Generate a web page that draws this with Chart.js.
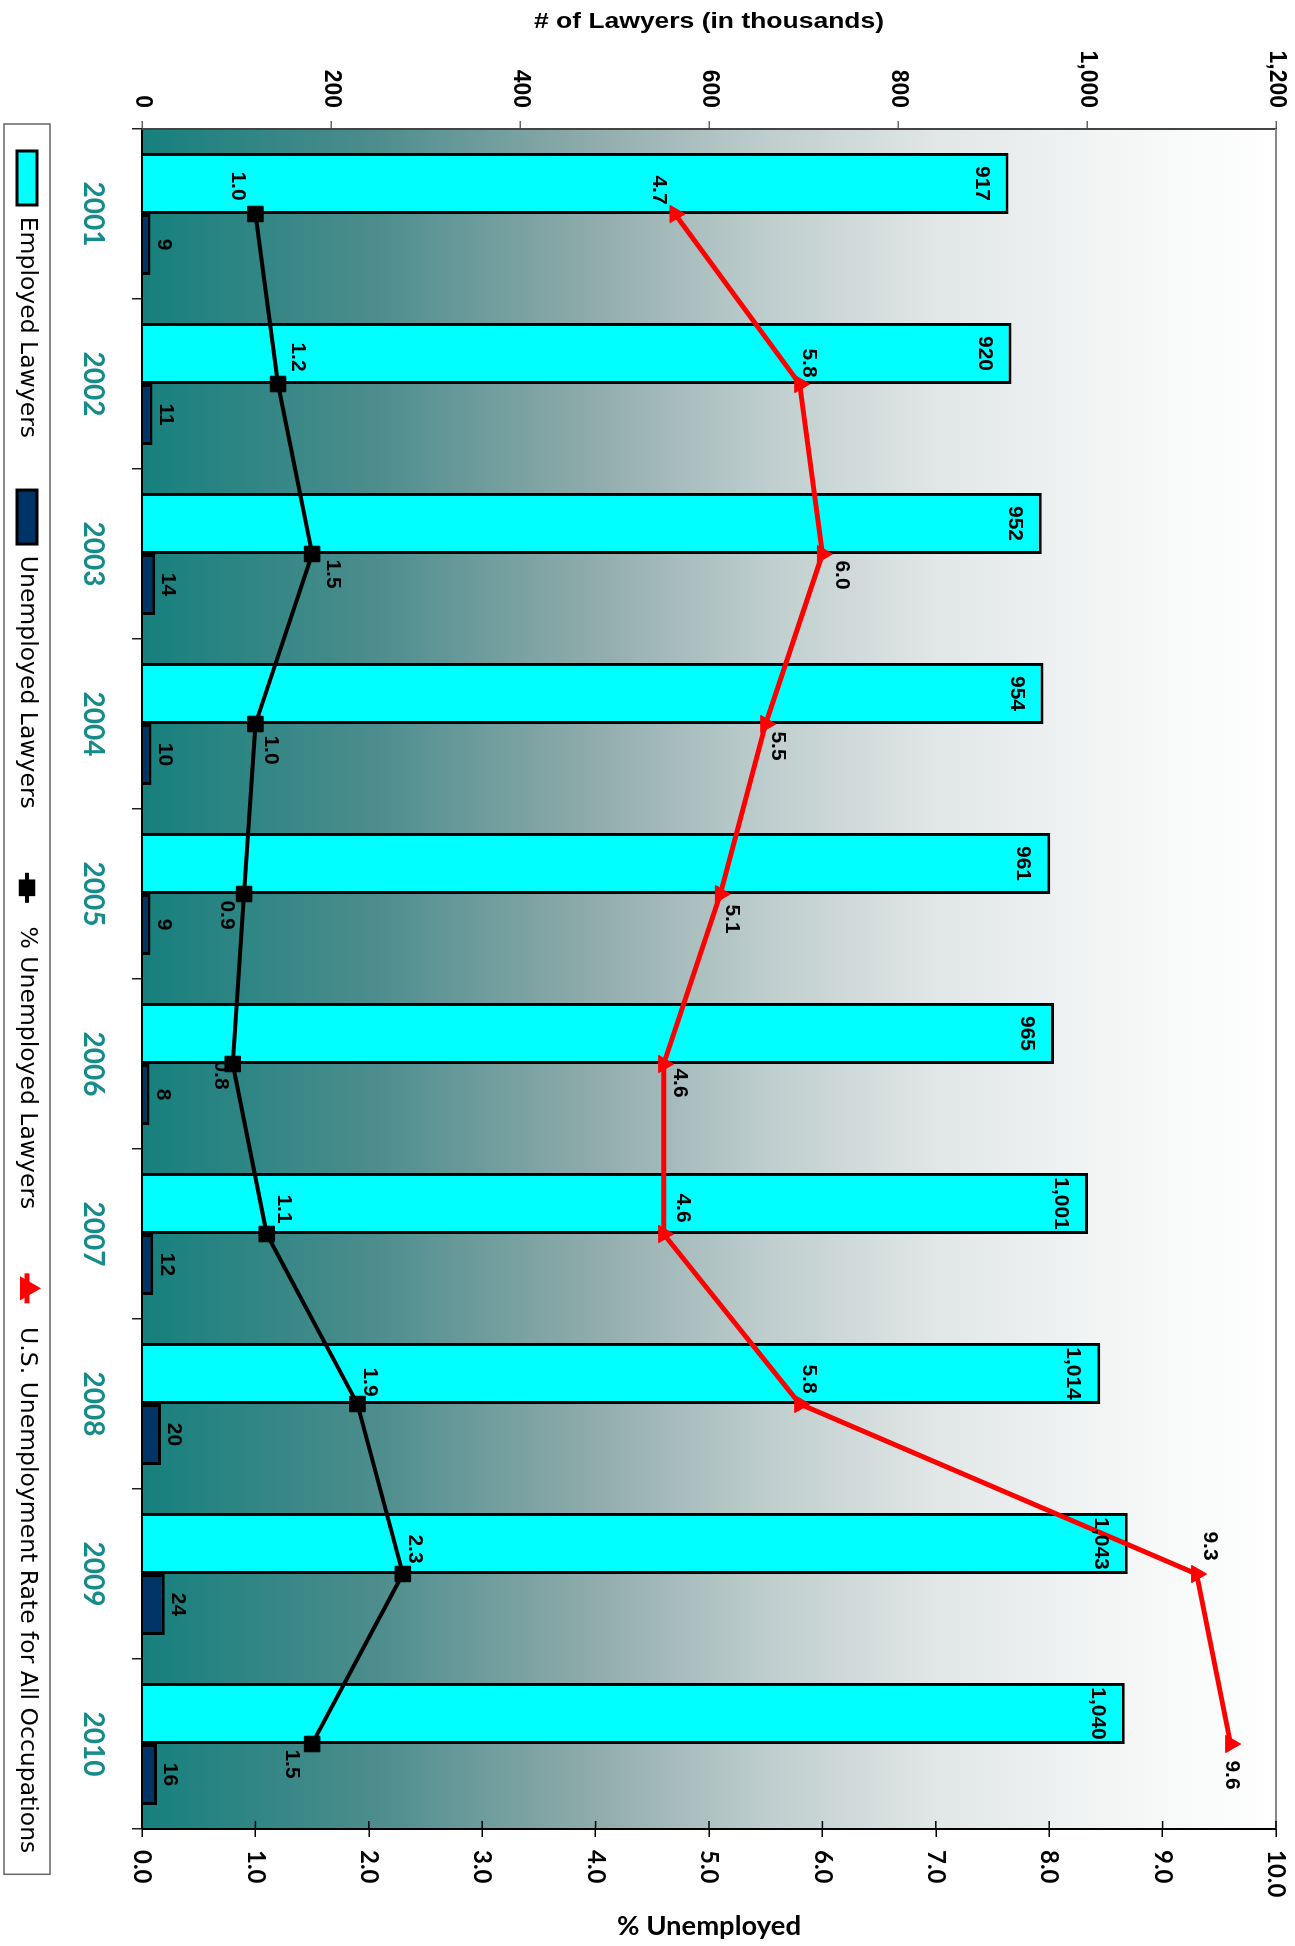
<!DOCTYPE html>
<html>
<head>
<meta charset="utf-8">
<title>Lawyers employed and unemployed 2001-2010</title>
<script src="https://cdn.jsdelivr.net/npm/chart.js@4.4.0/dist/chart.umd.min.js"></script>
<style>
  html, body { margin: 0; padding: 0; background: #fff; overflow: hidden; }
  body { width: 1295px; height: 1946px; position: relative; }
  /* the chart is laid out landscape and then turned a quarter clockwise */
  #wrap {
    position: absolute; left: 0; top: 0;
    width: 1946px; height: 1295px;
    transform-origin: 0 0;
    transform: translate(1295px, 0) rotate(90deg);
  }
</style>
</head>
<body>
<div id="wrap"><canvas id="lawyersChart" width="1946" height="1295"></canvas></div>
<script>
// Lawyers, 2001-2010 (thousands) and unemployment rates (%)
const years = ['2001', '2002', '2003', '2004', '2005', '2006', '2007', '2008', '2009', '2010'];
const employedLawyers = [917, 920, 952, 954, 961, 965, 1001, 1014, 1043, 1040];
const unemployedLawyers = [9, 11, 14, 10, 9, 8, 12, 20, 24, 16];
const pctUnemployedLawyers = [1.0, 1.2, 1.5, 1.0, 0.9, 0.8, 1.1, 1.9, 2.3, 1.5];
const usUnemploymentRate = [4.7, 5.8, 6.0, 5.5, 5.1, 4.6, 4.6, 5.8, 9.3, 9.6];

const lawyerTicks = [0, 200, 400, 600, 800, 1000, 1200];
const pctTicks = [0, 1, 2, 3, 4, 5, 6, 7, 8, 9, 10];

// label position next to each line point, [dx, dy] in the unturned chart
const pctLabelOffsets = [[-28, 18], [-27, -20], [20, -21], [26, -15], [21, 17], [11, 12], [-25, -17], [-22, -12], [-25, -12], [20, 20]];
const usLabelOffsets = [[-24, 16], [-21, -9], [21, -19], [22, -12], [25, -11], [19, -16], [-26, -19], [-25, -9], [-28, -13], [31, -1]];

const TEAL = '#178a8a';
const LEGEND_GAP = 52;

// gradient behind the plot, teal at the base fading to white
const plotBackground = {
  id: 'plotBackground',
  beforeDraw(chart) {
    const { ctx, chartArea: a } = chart;
    const g = ctx.createLinearGradient(0, a.bottom, 0, a.top);
    g.addColorStop(0, 'rgb(22,128,125)');
    g.addColorStop(0.2, 'rgb(75,140,140)');
    g.addColorStop(0.4, 'rgb(145,172,172)');
    g.addColorStop(0.55, 'rgb(190,205,205)');
    g.addColorStop(0.7, 'rgb(225,230,230)');
    g.addColorStop(0.85, 'rgb(243,245,245)');
    g.addColorStop(1, 'rgb(255,255,255)');
    ctx.save();
    ctx.fillStyle = g;
    ctx.fillRect(a.left, a.top, a.right - a.left, a.bottom - a.top);
    ctx.restore();
  }
};

// move the legend row into place once the layout is known
const legendPlacer = {
  id: 'legendPlacer',
  afterLayout(chart) {
    const lg = chart.legend;
    const top = chart.height - 27 - 11.75 - LEGEND_GAP;
    lg.top = top;
    lg.bottom = chart.height;
    lg.height = chart.height - top;
    const w = lg.right - lg.left;
    lg.left = 99;
    lg.right = 99 + w;
  }
};

// numbers on the bars and next to the line points
const valueLabels = {
  id: 'valueLabels',
  afterDatasetsDraw(chart) {
    const ctx = chart.ctx;
    const ds = chart.data.datasets;
    ctx.save();
    ctx.font = 'bold 21px "Liberation Sans"';
    ctx.fillStyle = '#000';
    ctx.textAlign = 'center';
    ctx.textBaseline = 'middle';
    chart.getDatasetMeta(0).data.forEach((bar, i) => {
      ctx.fillText(ds[0].data[i].toLocaleString('en-US'), bar.x, bar.y + 27);
    });
    chart.getDatasetMeta(1).data.forEach((bar, i) => {
      ctx.fillText(String(ds[1].data[i]), bar.x, bar.y - 13);
    });
    chart.getDatasetMeta(2).data.forEach((pt, i) => {
      const o = pctLabelOffsets[i];
      ctx.fillText(ds[2].data[i].toFixed(1), pt.x + o[0], pt.y + o[1]);
    });
    chart.getDatasetMeta(3).data.forEach((pt, i) => {
      const o = usLabelOffsets[i];
      ctx.fillText(ds[3].data[i].toFixed(1), pt.x + o[0], pt.y + o[1]);
    });
    ctx.restore();
  }
};

function drawAxisTitle(ctx, text, font, x, y, width) {
  ctx.save();
  ctx.font = font;
  const sx = width / ctx.measureText(text).width;
  ctx.translate(x, y);
  ctx.rotate(-Math.PI / 2);
  ctx.scale(sx, 1);
  ctx.textAlign = 'center';
  ctx.textBaseline = 'middle';
  ctx.fillStyle = '#000';
  ctx.fillText(text, 0, 0);
  ctx.restore();
}

// plot frame, inner ticks of the % axis, axis titles, legend frame and line markers
const extras = {
  id: 'extras',
  afterDraw(chart) {
    const { ctx, chartArea: a } = chart;
    const y1 = chart.scales.y1;
    ctx.save();
    ctx.strokeStyle = '#888';
    ctx.lineWidth = 2;
    ctx.beginPath();
    ctx.moveTo(a.left, a.top);
    ctx.lineTo(a.right, a.top);
    ctx.stroke();

    ctx.strokeStyle = '#000';
    ctx.lineWidth = 1.5;
    pctTicks.forEach(v => {
      const py = y1.getPixelForValue(v);
      ctx.beginPath();
      ctx.moveTo(a.right - 8, py);
      ctx.lineTo(a.right, py);
      ctx.stroke();
    });
    ctx.restore();

    const mid = (a.top + a.bottom) / 2;
    drawAxisTitle(ctx, '# of Lawyers (in thousands)', 'bold 22px "Liberation Sans"', 22, mid, 350);
    drawAxisTitle(ctx, '% Unemployed', 'bold 26px Lato', 1927, mid, 184);

    const legend = chart.legend;
    const boxes = legend.legendHitBoxes;
    if (!boxes || !boxes.length) return;
    const cy = boxes[0].top + 11.75;
    const first = boxes[0];
    const last = boxes[boxes.length - 1];
    ctx.save();
    ctx.strokeStyle = '#666';
    ctx.lineWidth = 1.5;
    ctx.strokeRect(first.left - 27, cy - 23, last.left + last.width + 21 - (first.left - 27), 46);
    legend.legendItems.forEach((item, i) => {
      const dset = chart.data.datasets[item.datasetIndex];
      if (dset.type !== 'line') return;
      const cx = boxes[i].left + 27;
      ctx.strokeStyle = dset.borderColor;
      ctx.fillStyle = dset.borderColor;
      ctx.lineWidth = dset.borderWidth;
      ctx.beginPath();
      ctx.moveTo(cx - 15, cy);
      ctx.lineTo(cx + 15, cy);
      ctx.stroke();
      Chart.helpers.drawPoint(ctx, { pointStyle: dset.pointStyle, radius: 9, rotation: 0, borderWidth: 1 }, cx, cy);
    });
    ctx.restore();
  }
};

const ctx = document.getElementById('lawyersChart').getContext('2d');
new Chart(ctx, {
  type: 'bar',
  data: {
    labels: years,
    datasets: [
      {
        label: 'Employed Lawyers',
        data: employedLawyers,
        yAxisID: 'y',
        backgroundColor: '#00ffff',
        borderColor: '#000',
        borderWidth: 3,
        categoryPercentage: 0.718,
        barPercentage: 1.0,
        order: 2
      },
      {
        label: 'Unemployed Lawyers',
        data: unemployedLawyers,
        yAxisID: 'y',
        backgroundColor: '#003366',
        borderColor: '#000',
        borderWidth: 3,
        categoryPercentage: 0.718,
        barPercentage: 1.0,
        order: 2
      },
      {
        type: 'line',
        label: '% Unemployed Lawyers',
        data: pctUnemployedLawyers,
        yAxisID: 'y1',
        borderColor: '#000',
        backgroundColor: '#000',
        borderWidth: 4,
        pointStyle: 'rect',
        pointRadius: 11,
        pointBorderWidth: 1,
        pointBackgroundColor: '#000',
        tension: 0,
        fill: false,
        order: 0
      },
      {
        type: 'line',
        label: 'U.S. Unemployment Rate for All Occupations',
        data: usUnemploymentRate,
        yAxisID: 'y1',
        borderColor: '#ff0000',
        backgroundColor: '#ff0000',
        borderWidth: 5,
        pointStyle: 'triangle',
        pointRadius: 10,
        pointBorderWidth: 1,
        pointBackgroundColor: '#ff0000',
        tension: 0,
        fill: false,
        order: 1
      }
    ]
  },
  options: {
    responsive: false,
    animation: false,
    events: [],
    layout: { padding: { left: 0, right: 0, top: 19, bottom: 0 } },
    scales: {
      x: {
        offset: true,
        grid: { display: true, drawOnChartArea: false, offset: true, tickLength: 10, color: '#222', lineWidth: 1.5 },
        border: { color: '#000', width: 2 },
        ticks: {
          color: TEAL,
          font: { family: 'Lato', weight: 'bold', size: 28 },
          padding: 22, maxRotation: 0, minRotation: 0, autoSkip: false
        },
        afterFit(s) { s.height = 82; s.paddingLeft = 0; s.paddingRight = 0; }
      },
      y: {
        position: 'left',
        min: 0, max: 1200,
        afterBuildTicks(s) { s.ticks = lawyerTicks.map(v => ({ value: v })); },
        ticks: {
          color: '#000',
          font: { family: 'Liberation Sans', weight: 'bold', size: 23 },
          padding: 13,
          callback: v => v.toLocaleString('en-US')
        },
        grid: { drawOnChartArea: false, tickLength: 8, color: '#666', lineWidth: 1.5 },
        border: { color: '#444', width: 2 },
        afterFit(s) { s.width = 129; s.paddingTop = 0; s.paddingBottom = 0; }
      },
      y1: {
        position: 'right',
        min: 0, max: 10,
        afterBuildTicks(s) { s.ticks = pctTicks.map(v => ({ value: v })); },
        ticks: {
          color: '#000',
          font: { family: 'Lato', weight: 'bold', size: 24 },
          padding: 13,
          callback: v => v.toFixed(1)
        },
        grid: { drawOnChartArea: false, tickLength: 8, color: '#000', lineWidth: 1.5 },
        border: { color: '#000', width: 2 },
        afterFit(s) { s.width = 117; s.paddingTop = 0; s.paddingBottom = 0; }
      }
    },
    plugins: {
      tooltip: { enabled: false },
      legend: {
        position: 'bottom',
        align: 'start',
        maxHeight: 60,
        labels: {
          boxWidth: 54,
          boxHeight: 20,
          padding: LEGEND_GAP,
          color: '#000',
          font: { family: 'DejaVu Sans', size: 23.5 },
          sort: (a, b) => a.datasetIndex - b.datasetIndex,
          generateLabels(chart) {
            const items = Chart.defaults.plugins.legend.labels.generateLabels(chart);
            items.forEach(it => {
              if (chart.data.datasets[it.datasetIndex].type === 'line') {
                it.fillStyle = 'rgba(0,0,0,0)';
                it.lineWidth = 0;
              }
            });
            return items;
          }
        }
      }
    }
  },
  plugins: [plotBackground, legendPlacer, valueLabels, extras]
});
</script>
</body>
</html>
